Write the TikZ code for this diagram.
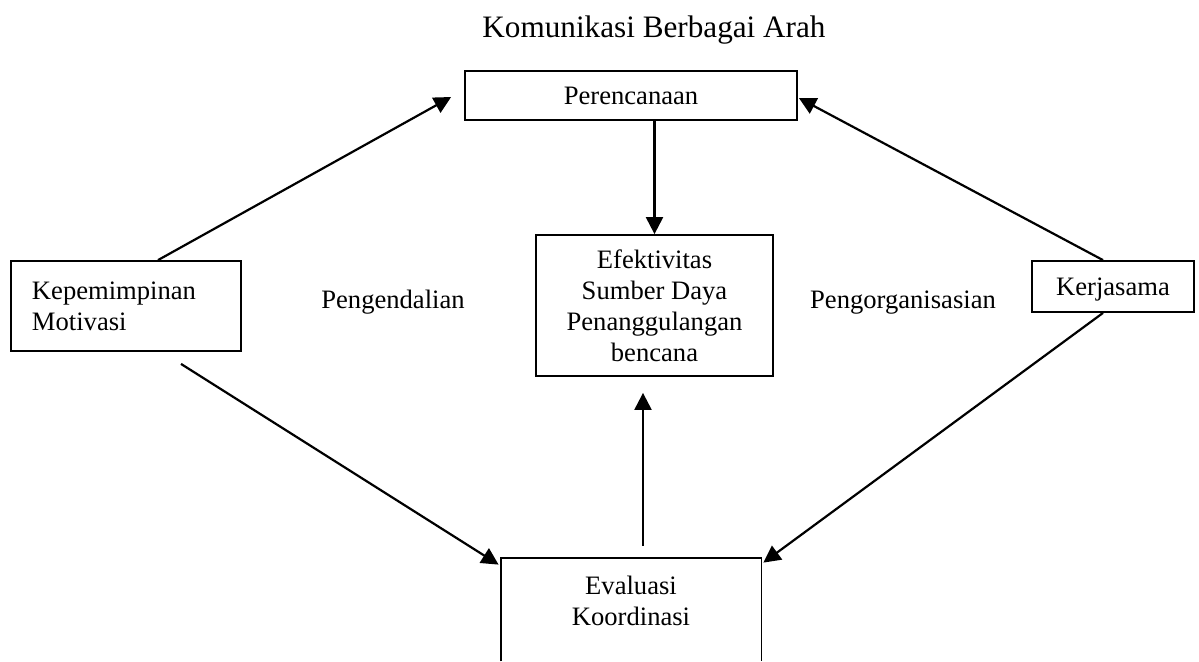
\documentclass[tikz,border=0pt]{standalone}
\usepackage{fontspec}
\setmainfont{Liberation Serif}
\usetikzlibrary{arrows.meta,calc}
\begin{document}
\begin{tikzpicture}[x=0.5pt,y=-0.5pt,
  box/.style={draw, line width=0.9pt, inner sep=0pt},
  conn/.style={line width=1.1pt, -{Triangle[length=8.5pt,width=8.5pt]}},
  txt/.style={font=\fontsize{13.3}{15.5}\selectfont}]
\useasboundingbox (0,0) rectangle (1199,661);
\node[anchor=base, font=\fontsize{15.6}{18}\selectfont] (title) at (654,37) {Komunikasi Berbagai Arah};
\node[box, txt, minimum width=166pt, minimum height=24.5pt] (per) at (631,95.5) {Perencanaan};
\node[box, txt, align=center, minimum width=118.5pt, minimum height=70.5pt] (ef) at (654.5,305.5) {Efektivitas\\Sumber Daya\\Penanggulangan\\bencana};
\node[box, txt, align=left, text width=94pt, inner xsep=10.5pt, minimum width=115pt, minimum height=45pt] (kep) at (126,306) {Kepemimpinan\\Motivasi};
\node[box, txt, text depth=0pt, minimum width=81pt, minimum height=25.5pt] (ker) at (1113,286.5) {Kerjasama};
\node[minimum width=130pt, minimum height=51.5pt, inner sep=0pt] (ev) at (631,609.5) {};
\draw[line width=0.9pt] (ev.south west) -- (ev.north west) -- (ev.north east) -- (ev.south east);
\node[txt, align=center] (evt) at (631,601) {Evaluasi\\Koordinasi};
\node[txt, anchor=base] (peng) at (393,308) {Pengendalian};
\node[txt, anchor=base] (porg) at (903,308) {Pengorganisasian};
\draw[conn] ($(kep.north)+(32,0)$) -- ($(per.west)+(-13,1.5)$);
\draw[conn] ($(ker.north)+(-10,0)$) -- ($(per.east)+(1,2.5)$);
\draw[conn] (ef.north |- per.south) -- (ef.north);
\draw[conn] ($(kep.south)+(55,12)$) -- ($(ev.north west)+(-2,7)$);
\draw[conn] ($(ker.south)+(-10,0)$) -- ($(ev.north east)+(2,5)$);
\draw[conn] ($(ev.north)+(12,-12)$) -- ($(ef.south)+(-11.5,16)$);
\end{tikzpicture}
\end{document}
